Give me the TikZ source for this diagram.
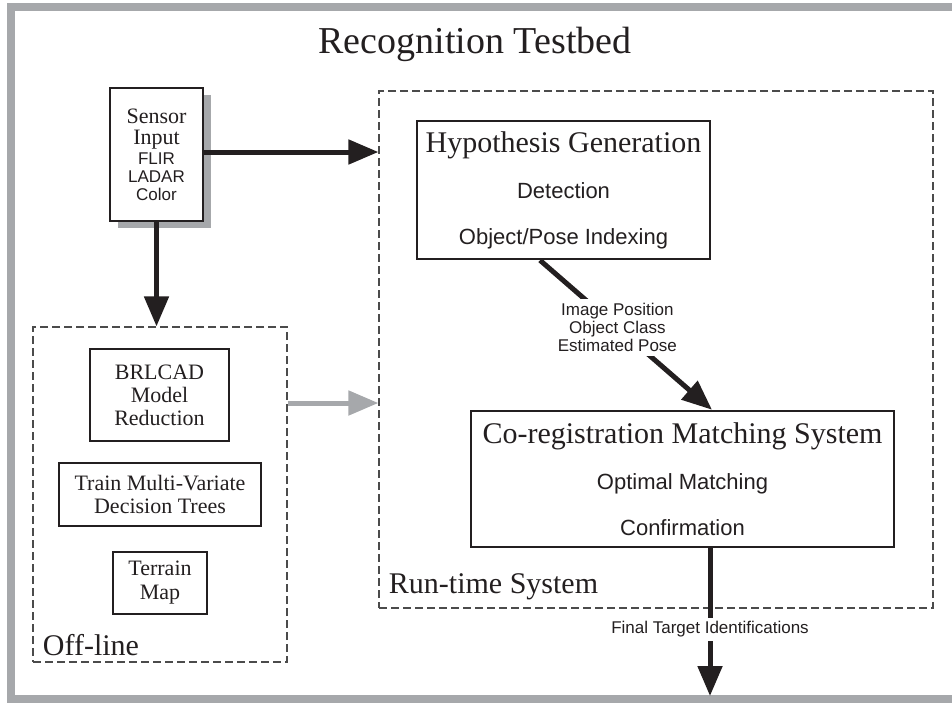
\documentclass[tikz,border=0pt]{standalone}
\usepackage{fontspec}
\setmainfont{Liberation Serif}
\setsansfont{Liberation Sans}
\usetikzlibrary{arrows.meta,shadows}

\definecolor{framegray}{RGB}{166,168,171}
\definecolor{dashgray}{RGB}{75,75,75}
\definecolor{ink}{RGB}{35,31,32}

\newcommand{\midsans}{\sffamily\fontsize{22}{22}\selectfont}
\newcommand{\smallsans}{\sffamily\fontsize{17}{18}\selectfont}

\begin{document}
\begin{tikzpicture}[x=1pt,y=-1pt,
	box/.style={draw=ink, line width=2.5pt, inner sep=0pt, align=center, text=ink},
	region/.style={draw=dashgray, line width=1.2pt, dash pattern=on 8pt off 4pt, inner sep=0pt},
	flow/.style={ink, line width=5pt, -{Triangle[length=30pt,width=24pt]}},
	note/.style={font=\smallsans, align=center, fill=white, text=ink, inner sep=4pt}]

	\useasboundingbox (0,0) rectangle (952,702);

	\begin{scope}
		\clip (0,0) rectangle (952,702);
		\draw[framegray, line width=8pt] (11,7) rectangle (970,699);
	\end{scope}

	\node[text=ink, anchor=base, font=\fontsize{38}{38}\selectfont] (title) at (475,53) {Recognition Testbed};

	% sensor
	\node[box, fill=white, minimum width=93pt, minimum height=133pt, font=\fontsize{22}{18}\selectfont,
		general shadow={fill=framegray, shadow xshift=8pt, shadow yshift=-7pt}] (sensor) at (156.5,154.5)
		{Sensor\\[3pt]Input\\[2pt]{\smallsans FLIR}\\{\smallsans LADAR}\\{\smallsans Color}};

	% off-line part
	\node[region, minimum width=254pt, minimum height=335pt] (offline) at (160,494.5) {};
	\node[box, minimum width=139pt, minimum height=92pt, font=\fontsize{22}{23}\selectfont] (brlcad) at (159.5,395) {BRLCAD\\Model\\Reduction};
	\node[box, minimum width=202pt, minimum height=63pt, font=\fontsize{22}{23}\selectfont] (train) at (160,494.5) {Train Multi-Variate\\Decision Trees};
	\node[box, minimum width=94pt, minimum height=62pt, font=\fontsize{22}{24}\selectfont] (terrain) at (160,583) {Terrain\\Map};
	\node[text=ink, anchor=base west, font=\fontsize{30}{30}\selectfont] (offlabel) at ([shift={(7pt,7pt)}]offline.south west) {Off-line};

	% run-time part
	\node[region, minimum width=554pt, minimum height=517pt] (runtime) at (656,349.5) {};
	\node[box, minimum width=293pt, minimum height=138pt, font=\fontsize{30}{46}\selectfont] (hypo) at (563.5,190)
		{Hypothesis Generation\\{\midsans Detection}\\{\midsans Object/Pose Indexing}};
	\node[box, minimum width=423pt, minimum height=136pt, font=\fontsize{30}{46}\selectfont] (coreg) at (682.5,479)
		{Co-registration Matching System\\{\midsans Optimal Matching}\\{\midsans Confirmation}};
	\node[text=ink, anchor=base west, font=\fontsize{30}{30}\selectfont] (runlabel) at ([shift={(7pt,15pt)}]runtime.south west) {Run-time System};

	% arrows
	\draw[flow] ([yshift=2.5pt]sensor.east) -- ([yshift=2.5pt]sensor.east -| runtime.west);
	\draw[flow] (sensor.south) -- (sensor.south |- offline.north);
	\draw[flow, framegray] ([yshift=91.5pt]offline.east) -- ([yshift=91.5pt]offline.east -| runtime.west);
	\draw[flow] ([xshift=-23.5pt]hypo.south) -- node[note, pos=0.45] (poselabel) {Image Position\\Object Class\\Estimated Pose} ([xshift=29.5pt]coreg.north);

	\coordinate (result) at (710,696);
	\draw[flow] ([xshift=27.5pt]coreg.south) -- node[note, pos=0.55] (finallabel) {Final Target Identifications} (result);

\end{tikzpicture}
\end{document}
